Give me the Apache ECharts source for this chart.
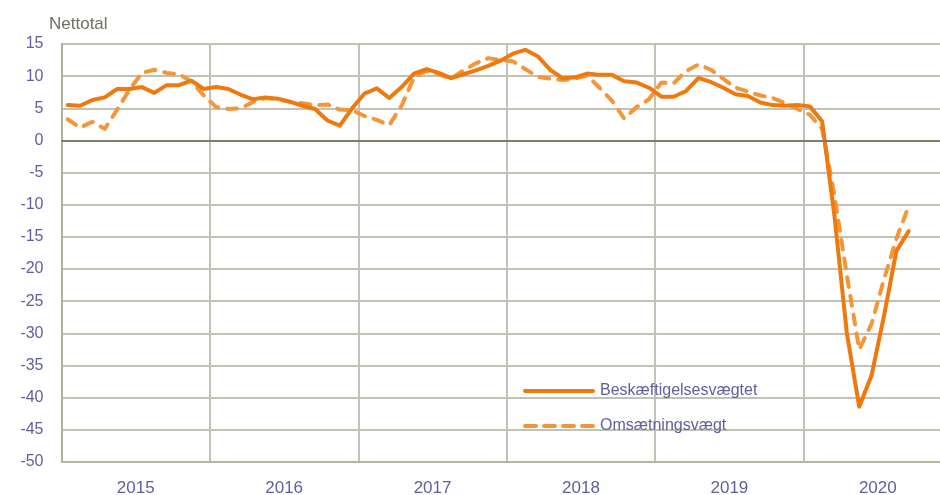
<!DOCTYPE html>
<html><head><meta charset="utf-8">
<script src="https://cdn.jsdelivr.net/npm/echarts@6/dist/echarts.min.js"></script>
<style>html,body{margin:0;padding:0;background:#fff}#c{width:940px;height:495px}</style>
</head><body><div id="c"></div>
<script>
const years = ['2015','2016','2017','2018','2019','2020'];
const monthNames = ['jan','feb','mar','apr','maj','jun','jul','aug','sep','okt','nov','dec'];
const yTicks = {min:-50, max:15, step:5};
const seriesNames = ['Beskæftigelsesvægtet','Omsætningsvægt'];

// Monthly values, Jan 2015 – Sep 2020
const beskaeftigelse = [
  5.5, 5.4, 6.3, 6.7, 8.0, 8.0, 8.3, 7.4, 8.6, 8.6, 9.3, 8.0,
  8.3, 8.0, 7.1, 6.4, 6.7, 6.5, 6.0, 5.4, 4.9, 3.1, 2.3, 5.0,
  7.3, 8.1, 6.6, 8.3, 10.4, 11.1, 10.5, 9.7, 10.3, 10.9, 11.6, 12.4,
  13.5, 14.1, 13.1, 11.0, 9.7, 9.8, 10.4, 10.2, 10.2, 9.2, 9.0, 8.2,
  6.8, 6.8, 7.7, 9.7, 9.1, 8.2, 7.2, 6.9, 5.9, 5.5, 5.4, 5.5,
  5.3, 3.0, -11.8, -30.0, -41.4, -36.5, -27.3, -17.2, -14.1
];
const omsaetning = [
  3.3, 2.0, 2.9, 1.8, 4.8, 7.9, 10.5, 11.0, 10.5, 10.3, 9.2, 7.0,
  5.2, 4.9, 5.0, 6.0, 6.6, 6.4, 6.0, 5.8, 5.5, 5.6, 4.8, 4.7,
  3.8, 3.2, 2.4, 5.4, 9.8, 10.8, 10.3, 9.6, 10.9, 12.0, 12.8, 12.5,
  12.3, 11.1, 9.9, 9.6, 9.4, 9.6, 10.1, 8.2, 6.2, 3.4, 5.2, 6.4,
  9.0, 8.9, 10.8, 11.8, 11.0, 9.6, 8.2, 7.6, 7.0, 6.6, 5.8, 4.9,
  4.0, 1.8, -8.6, -21.0, -32.5, -28.5, -21.6, -15.3, -10.2
];

const months = [];
years.forEach(y => monthNames.forEach(m => months.push(m + ' ' + y)));

const chart = echarts.init(document.getElementById('c'), null, {renderer:'canvas'});
const font = '"Liberation Sans", Arial, sans-serif';
const gridColor = '#C2C2B4';
const labelColor = '#5F5F9E';
const solidColor = '#EF790C';
const dashColor = '#F59537';

chart.setOption({
  animation: false,
  textStyle: {fontFamily: font},
  title: {
    text: 'Nettotal', left: 44, top: 11,
    textStyle: {fontFamily: font, fontSize: 17, fontWeight: 'normal', color: '#6F6F62'}
  },
  grid: {left: 61.5, right: -12, top: 44, bottom: 33, containLabel: false, outerBoundsMode: 'none'},
  xAxis: [
    {type: 'category', data: months, boundaryGap: true, show: false},
    {type: 'category', data: years, boundaryGap: true, position: 'bottom',
     axisLine: {show: true, lineStyle: {color: '#B5B5A6', width: 2}},
     axisTick: {show: false},
     axisLabel: {color: labelColor, fontSize: 17, margin: 18, fontFamily: font},
     splitLine: {show: true, lineStyle: {color: gridColor, width: 2}}}
  ],
  yAxis: {
    type: 'value', min: yTicks.min, max: yTicks.max, interval: yTicks.step,
    axisLine: {show: true, lineStyle: {color: '#B0B0A0', width: 2}},
    axisTick: {show: false},
    axisLabel: {color: labelColor, fontSize: 16, margin: 18, fontFamily: font},
    splitLine: {show: true, lineStyle: {color: gridColor, width: 2}}
  },
  legend: {
    orient: 'vertical', left: 518, top: 378,
    itemWidth: 72, itemHeight: 4, itemGap: 19,
    data: [
      {name: seriesNames[0], icon: 'path://M2,0H70A2,2 0 0 1 70,4H2A2,2 0 0 1 2,0Z'},
      {name: seriesNames[1], icon: 'path://M2,0H13A2,2 0 0 1 13,4H2A2,2 0 0 1 2,0Z M21,0H32A2,2 0 0 1 32,4H21A2,2 0 0 1 21,0Z M40,0H51A2,2 0 0 1 51,4H40A2,2 0 0 1 40,0Z M59,0H70A2,2 0 0 1 70,4H59A2,2 0 0 1 59,0Z'}
    ],
    textStyle: {color: labelColor, fontSize: 16, fontFamily: font}
  },
  series: [
    {
      type: 'line', name: 'zero', data: [], xAxisIndex: 0, z: 1, silent: true,
      markLine: {
        silent: true, symbol: 'none', label: {show: false},
        lineStyle: {color: '#7C7C6C', width: 2, type: 'solid'},
        data: [{yAxis: 0}]
      }
    },
    {
      type: 'line', name: seriesNames[0], data: beskaeftigelse, xAxisIndex: 0, z: 3,
      symbol: 'none', showSymbol: false, smooth: false,
      lineStyle: {color: solidColor, width: 4, cap: 'round', join: 'round'},
      itemStyle: {color: solidColor}
    },
    {
      type: 'line', name: seriesNames[1], data: omsaetning, xAxisIndex: 0, z: 2,
      symbol: 'none', showSymbol: false, smooth: false,
      lineStyle: {color: dashColor, width: 4, type: [10, 9], cap: 'round', join: 'round'},
      itemStyle: {color: dashColor}
    }
  ]
});
</script></body></html>
